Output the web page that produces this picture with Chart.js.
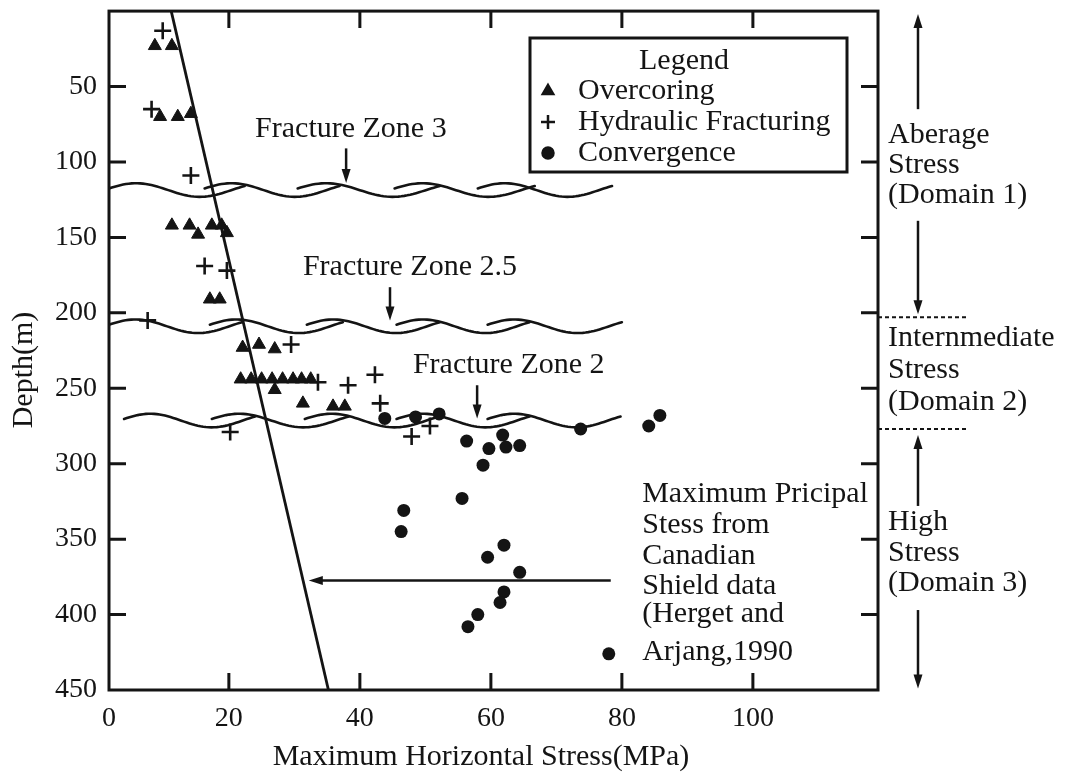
<!DOCTYPE html>
<html>
<head>
<meta charset="utf-8">
<script src="https://cdn.jsdelivr.net/npm/chart.js@4.4.1/dist/chart.umd.min.js"></script>
<style>
  html, body { margin: 0; padding: 0; background: #fff; }
  #wrap { width: 1065px; height: 775px; }
</style>
</head>
<body>
<div id="wrap"><canvas id="stressChart" width="1065" height="775"></canvas></div>
<script>
// ---- measurements: maximum horizontal stress (MPa) vs depth (m) ----
const overcoringStress = [8.7, 11.3, 9.5, 12.2, 14.2, 11.3, 14.0, 15.3, 17.4, 18.9, 19.7, 17.1, 18.6,
  22.1, 24.6, 27.0, 21.8, 23.4, 25.0, 26.6, 28.2, 29.8, 31.1, 32.5, 27.0, 31.3, 35.9, 37.7];
const overcoringDepth = [23, 23, 70, 70, 68, 142, 142, 148, 142, 142, 147, 191, 191,
  223, 221, 224, 244, 244, 244, 244, 244, 244, 244, 244, 251, 260, 262, 262];

const hydraulicStress = [9.9, 8.2, 14.2, 16.3, 19.7, 7.6, 29.5, 33.6, 38.2, 42.3, 43.1, 47.9, 50.7, 20.2];
const hydraulicDepth = [13, 65, 109, 169, 172, 205, 221, 246, 248, 241, 260, 282, 275, 279];

const convergenceStress = [43.8, 48.5, 52.1, 56.3, 61.8, 59.7, 62.3, 64.4, 73.7, 84.1, 85.8, 58.8,
  55.6, 46.7, 46.3, 62.0, 59.5, 64.4, 62.0, 61.4, 58.0, 56.5, 78.0];
const convergenceDepth = [270, 269, 267, 285, 281, 290, 289, 288, 277, 275, 268, 301,
  323, 331, 345, 354, 362, 372, 385, 392, 400, 408, 426];

// Canadian Shield maximum principal stress trend (end points)
const shieldStress = [11.2, 35.2];
const shieldDepth = [0, 450];

// axes
const xRange = [1.7, 119.1];
const yRange = [0, 450];
const xTickValues = [0, 20, 40, 60, 80, 100];
const xTickLabels = ['0', '20', '40', '60', '80', '100'];
const yTickValues = [50, 100, 150, 200, 250, 300, 350, 400, 450];
const yTickLabels = ['50', '100', '150', '200', '250', '300', '350', '400', '450'];

// fracture zones: label, depth of the wave band, wave pieces [from, to] in MPa
const fractureZones = [
  { label: 'Fracture Zone 3', depth: 118.6, pieces: [[1.7, 22.4], [16.3, 36.9], [30.5, 52.2], [45.3, 66.7], [58, 78.5]],
    text: [24, 78.4], arrow: [37.9, 91, 114] },
  { label: 'Fracture Zone 2.5', depth: 208.9, pieces: [[1.7, 22], [17.1, 37.4], [31.9, 52.2], [45.6, 65.9], [59.5, 80]],
    text: [31.3, 170], arrow: [44.6, 183, 205] },
  { label: 'Fracture Zone 2', depth: 271.4, pieces: [[4, 24], [17.4, 38.3], [31.6, 52.1], [45.6, 65.9], [59.5, 79.8]],
    text: [48.1, 234.6], arrow: [57.9, 248, 270] }
];

const shieldNote = ['Maximum Pricipal', 'Stess from', 'Canadian', 'Shield data', '(Herget and', 'Arjang,1990'];
const shieldNoteDepth = [320, 341, 361, 381, 400, 425];
const shieldNoteStress = 83.1;
const shieldArrow = [78.3, 32.2, 377.5];

// stress domains on the right-hand side
const domainBreaks = [203, 277];
const domains = [
  { lines: ['Aberage', 'Stress', '(Domain 1)'], depth: [82, 102, 122], up: [65, 2], down: [139, 201] },
  { lines: ['Internmediate', 'Stress', '(Domain 2)'], depth: [217, 238, 259] },
  { lines: ['High', 'Stress', '(Domain 3)'], depth: [339, 359, 379], up: [328, 281], down: [397, 449] }
];

const serif = '"Liberation Serif", "Times New Roman", serif';
const ink = '#141414';

function arrowLine(ctx, x1, y1, x2, y2) {
  const a = Math.atan2(y2 - y1, x2 - x1);
  const hl = 14, hw = 4.5;
  ctx.beginPath();
  ctx.moveTo(x1, y1);
  ctx.lineTo(x2 - Math.cos(a) * hl * 0.7, y2 - Math.sin(a) * hl * 0.7);
  ctx.stroke();
  ctx.beginPath();
  ctx.moveTo(x2, y2);
  ctx.lineTo(x2 - Math.cos(a) * hl + Math.sin(a) * hw, y2 - Math.sin(a) * hl - Math.cos(a) * hw);
  ctx.lineTo(x2 - Math.cos(a) * hl - Math.sin(a) * hw, y2 - Math.sin(a) * hl + Math.cos(a) * hw);
  ctx.closePath();
  ctx.fill();
}

function wavePiece(ctx, x0, x1, yc) {
  const amp = 6.8;
  ctx.beginPath();
  for (let i = 0; i <= 48; i++) {
    const t = i / 48;
    const x = x0 + (x1 - x0) * t;
    const y = yc - amp * Math.cos(2 * Math.PI * (t - 0.2) / 0.94);
    if (i === 0) ctx.moveTo(x, y); else ctx.lineTo(x, y);
  }
  ctx.stroke();
}

// waves, frame, inward ticks, legend box and notes
const decorPlugin = {
  id: 'decor',
  beforeDatasetsDraw(chart) {
    const { ctx, scales: { x, y }, chartArea: area } = chart;
    ctx.save();
    ctx.beginPath();
    ctx.rect(area.left, area.top, area.right - area.left, area.bottom - area.top);
    ctx.clip();
    ctx.strokeStyle = ink;
    ctx.lineWidth = 2.6;
    ctx.lineCap = 'round';
    fractureZones.forEach(z => {
      const yc = y.getPixelForValue(z.depth);
      z.pieces.forEach(p => wavePiece(ctx, x.getPixelForValue(p[0]), x.getPixelForValue(p[1]), yc));
    });
    ctx.restore();
  },
  afterDraw(chart) {
    const { ctx, scales: { x, y }, chartArea: area } = chart;
    ctx.save();
    ctx.strokeStyle = ink;
    ctx.fillStyle = ink;

    // frame
    ctx.lineWidth = 3;
    ctx.strokeRect(area.left, area.top, area.right - area.left, area.bottom - area.top);

    // inward tick marks on all four sides
    const tl = 17;
    ctx.beginPath();
    xTickValues.filter(v => v > xRange[0]).forEach(v => {
      const px = x.getPixelForValue(v);
      ctx.moveTo(px, area.bottom); ctx.lineTo(px, area.bottom - tl);
      ctx.moveTo(px, area.top); ctx.lineTo(px, area.top + tl);
    });
    yTickValues.filter(v => v < yRange[1]).forEach(v => {
      const py = y.getPixelForValue(v);
      ctx.moveTo(area.left, py); ctx.lineTo(area.left + tl, py);
      ctx.moveTo(area.right, py); ctx.lineTo(area.right - tl, py);
    });
    ctx.stroke();

    // fracture zone labels
    ctx.font = '30px ' + serif;
    ctx.textBaseline = 'middle';
    ctx.textAlign = 'left';
    ctx.lineWidth = 2.5;
    fractureZones.forEach(z => {
      ctx.fillText(z.label, x.getPixelForValue(z.text[0]), y.getPixelForValue(z.text[1]));
      const ax = x.getPixelForValue(z.arrow[0]);
      arrowLine(ctx, ax, y.getPixelForValue(z.arrow[1]), ax, y.getPixelForValue(z.arrow[2]));
    });

    // Canadian Shield note + arrow to the trend line
    const nx = x.getPixelForValue(shieldNoteStress);
    shieldNote.forEach((t, i) => ctx.fillText(t, nx, y.getPixelForValue(shieldNoteDepth[i])));
    const ay = y.getPixelForValue(shieldArrow[2]);
    arrowLine(ctx, x.getPixelForValue(shieldArrow[0]), ay, x.getPixelForValue(shieldArrow[1]), ay);

    // legend box
    const lx = 530, ly = 38, lw = 317, lh = 134;
    ctx.lineWidth = 3;
    ctx.strokeRect(lx, ly, lw, lh);
    ctx.textAlign = 'center';
    ctx.fillText('Legend', lx + 154, ly + 23);
    ctx.textAlign = 'left';
    const rows = [
      { style: 'triangle', r: 6, label: 'Overcoring' },
      { style: 'cross', r: 7, label: 'Hydraulic Fracturing' },
      { style: 'circle', r: 5.5, label: 'Convergence' }
    ];
    rows.forEach((row, i) => {
      const ry = ly + 53 + i * 31;
      ctx.lineWidth = 2.5;
      Chart.helpers.drawPoint(ctx, { pointStyle: row.style, radius: row.r, borderWidth: 2.5 }, lx + 18, ry);
      if (row.style !== 'cross') ctx.fill();
      ctx.fillText(row.label, lx + 48, ry);
    });

    // stress domains outside the right axis
    const tx = area.right + 10, arx = area.right + 40;
    ctx.lineWidth = 2.5;
    domains.forEach(d => {
      d.lines.forEach((t, i) => ctx.fillText(t, tx, y.getPixelForValue(d.depth[i])));
      if (d.up) arrowLine(ctx, arx, y.getPixelForValue(d.up[0]), arx, y.getPixelForValue(d.up[1]));
      if (d.down) arrowLine(ctx, arx, y.getPixelForValue(d.down[0]), arx, y.getPixelForValue(d.down[1]));
    });
    ctx.lineWidth = 2;
    ctx.setLineDash([4, 3]);
    domainBreaks.forEach(b => {
      const py = y.getPixelForValue(b);
      ctx.beginPath();
      ctx.moveTo(area.right, py);
      ctx.lineTo(area.right + 88, py);
      ctx.stroke();
    });
    ctx.setLineDash([]);

    // axis titles
    ctx.font = '30px ' + serif;
    ctx.textAlign = 'center';
    ctx.fillText('Maximum Horizontal Stress(MPa)', 481, 757);
    ctx.translate(24, 370);
    ctx.rotate(-Math.PI / 2);
    ctx.fillText('Depth(m)', 0, 0);
    ctx.restore();
  }
};

const pts = (xs, ys) => xs.map((v, i) => ({ x: v, y: ys[i] }));

new Chart(document.getElementById('stressChart'), {
  type: 'scatter',
  data: {
    datasets: [
      {
        label: 'Overcoring',
        data: pts(overcoringStress, overcoringDepth),
        pointStyle: 'triangle', pointRadius: 7.5,
        backgroundColor: ink, borderColor: ink, borderWidth: 1
      },
      {
        label: 'Hydraulic Fracturing',
        data: pts(hydraulicStress, hydraulicDepth),
        pointStyle: 'cross', pointRadius: 8.5,
        borderColor: ink, borderWidth: 2.6
      },
      {
        label: 'Convergence',
        data: pts(convergenceStress, convergenceDepth),
        pointStyle: 'circle', pointRadius: 6.5,
        backgroundColor: ink, borderColor: ink, borderWidth: 0
      },
      {
        type: 'line',
        label: 'Canadian Shield',
        data: pts(shieldStress, shieldDepth),
        borderColor: ink, borderWidth: 2.8, pointRadius: 0, showLine: true
      }
    ]
  },
  options: {
    responsive: false,
    animation: false,
    layout: { padding: { top: 7, right: 187, bottom: 0, left: 0 } },
    plugins: { legend: { display: false }, tooltip: { enabled: false } },
    scales: {
      x: {
        type: 'linear', min: xRange[0], max: xRange[1],
        grid: { display: false, drawTicks: false },
        border: { display: false },
        afterBuildTicks: s => { s.ticks = xTickValues.map(v => ({ value: Math.max(v, xRange[0]) })); },
        afterFit: s => { s.height = 85; s.paddingLeft = 0; s.paddingRight = 0; },
        ticks: {
          autoSkip: false, maxRotation: 0, padding: 12, color: ink,
          font: { family: serif, size: 28 },
          callback: (v, i) => xTickLabels[i]
        }
      },
      y: {
        type: 'linear', reverse: true, min: yRange[0], max: yRange[1],
        grid: { display: false, drawTicks: false },
        border: { display: false },
        afterBuildTicks: s => { s.ticks = yTickValues.map(v => ({ value: v })); },
        afterFit: s => { s.width = 109; s.paddingTop = 0; s.paddingBottom = 0; },
        ticks: {
          autoSkip: false, padding: 12, color: ink,
          font: { family: serif, size: 28 },
          callback: (v, i) => yTickLabels[i]
        }
      }
    }
  },
  plugins: [decorPlugin]
});
</script>
</body>
</html>
